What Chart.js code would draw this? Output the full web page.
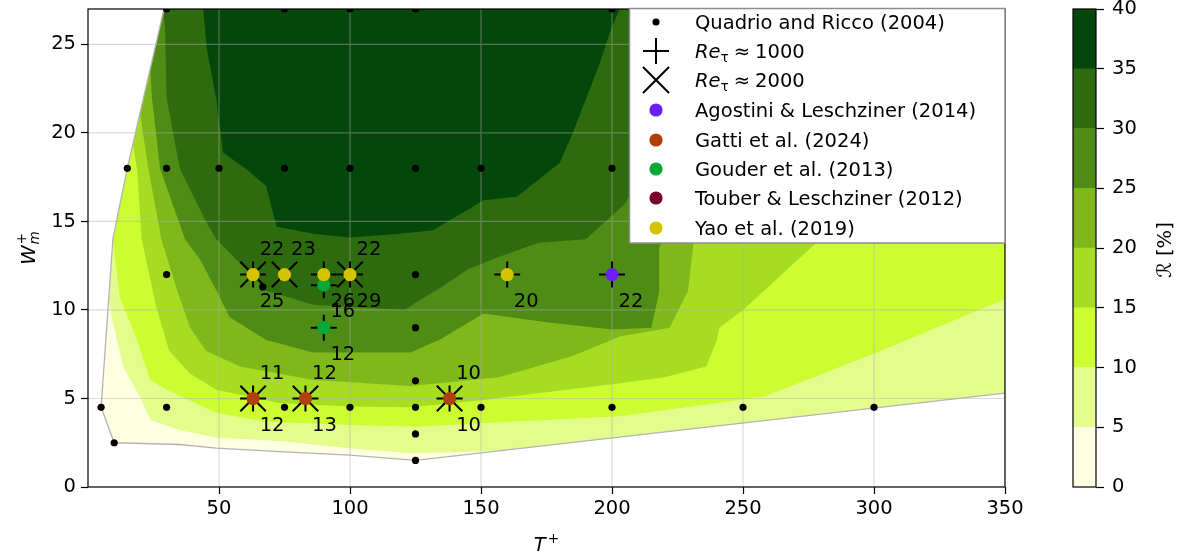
<!DOCTYPE html>
<html>
<head>
<meta charset="utf-8">
<script src="https://cdn.jsdelivr.net/npm/chart.js@4.4.1/dist/chart.umd.min.js"></script>
<style>
  html, body { margin: 0; padding: 0; background: #ffffff; }
  #wrap { position: relative; width: 1177px; height: 555px; overflow: hidden; }
  #main { position: absolute; left: 0; top: 0; }
  #cbar { position: absolute; left: 1040px; top: 0; }
</style>
</head>
<body>
<div id="wrap">
  <canvas id="main" width="1040" height="555"></canvas>
  <canvas id="cbar" width="137" height="555"></canvas>
</div>
<script>
const FONT = "'DejaVu Sans', sans-serif";
const FS = 19.5;

// ---- axes ----
const xTicks = [50, 100, 150, 200, 250, 300, 350];
const yTicks = [0, 5, 10, 15, 20, 25];
const xRange = [0, 350];
const yRange = [0, 27];

// ---- drag-reduction levels (colour bar) ----
const levelTicks = [0, 5, 10, 15, 20, 25, 30, 35, 40];
const levelColors = ['#fefee0', '#e4fc8c', '#cbfd32', '#a6dc22', '#80b81c', '#4f8c15', '#2e6b0e', '#04470a'];

// ---- edge of the interpolated (T+, W+) domain: left and lower side ----
const domainEdge = [[29, 27], [15, 18], [9.5, 14], [5, 4.5], [10, 2.5], [35, 2.4], [49, 2.2],
  [73, 2.0], [100, 1.8], [125, 1.5], [350, 5.3]];

// ---- iso-lines of R (T+, W+), each bounding the region above that level ----
const iso5 = [[6, 12], [9.5, 9.3], [13.4, 6.8], [19.8, 5.1], [23.7, 3.8], [35, 3.2], [49, 2.8],
  [73, 2.6], [99, 2.2], [123, 1.9], [150, 2.0], [168, 2.1], [175, 0], [360, 0], [360, 28], [6, 28]];
const iso10 = [[7, 16], [9.5, 14], [12.2, 10.7], [18.7, 8.3], [23.7, 6.05], [30, 5.5], [49, 4.2],
  [67, 3.7], [100, 3.5], [125, 3.4], [150, 3.6], [203, 4.0], [258, 5.1], [301, 7.6], [350, 10.6],
  [360, 11.2], [360, 28], [7, 28]];
const iso15 = [[10, 28], [14, 22], [18.7, 18], [20.5, 14], [26, 10.2], [31, 7.7], [39, 6.4], [49, 5.5],
  [73, 4.75], [100, 4.55], [123, 4.5], [150, 4.9], [200, 5.8], [220, 6.2], [236, 6.8], [240, 8.3],
  [241, 9.0], [250, 10], [278, 13.8], [300, 17], [330, 22], [360, 26], [360, 28]];
const iso20 = [[15, 28], [19, 22], [23, 18], [28, 14], [34, 11.1], [39, 9], [45, 7.7], [58, 6.8],
  [86, 6.05], [123, 5.7], [157, 6.2], [185, 7.4], [203, 8.5], [222, 9.0], [229, 11.1], [231, 13.6],
  [233, 16], [250, 22], [265, 28]];
const iso25 = [[22, 28], [24.4, 22], [27.5, 18], [37, 14], [43, 12.8], [49, 11.1], [54, 9.6], [68, 8.3],
  [86, 7.6], [123, 7.6], [134, 8.3], [151, 9.8], [175, 9.3], [200, 8.9], [215, 9.0], [218, 11],
  [218, 13.5], [225, 16], [240, 22], [255, 28]];
const iso30 = [[28, 28], [29.4, 26], [30, 22], [35, 18], [45, 15], [49, 14], [57, 12.8], [68, 11.1],
  [86, 10.3], [121, 10.0], [127, 10.6], [135, 11.3], [145, 12.3], [157, 13], [172, 13.8], [190, 14],
  [205, 16], [212, 18], [230, 22], [250, 28]];
const iso35 = [[43, 28], [44, 27], [45.4, 24.7], [49, 21.9], [51.5, 18.9], [60, 18], [68, 17], [72, 14.7],
  [86, 14.3], [100, 14.1], [119, 14.3], [131.7, 14.5], [151, 16.2], [163.7, 16.4], [180, 18.3],
  [185, 20], [195, 23.8], [200, 26], [203, 27], [204, 28]];

// ---- simulation database (Quadrio and Ricco 2004) ----
const quadrioPoints = [
  [30, 27], [75, 27], [100, 27], [125, 27], [200, 27],
  [15, 18], [30, 18], [50, 18], [75, 18], [100, 18], [125, 18], [150, 18], [200, 18],
  [30, 12], [125, 12], [66.7, 11.3], [125, 9], [125, 6],
  [5, 4.5], [30, 4.5], [75, 4.5], [100, 4.5], [125, 4.5], [150, 4.5], [200, 4.5], [250, 4.5], [300, 4.5],
  [125, 3], [10, 2.5], [125, 1.5]
];

// ---- high-Re studies: R [%] at Re_tau ~ 1000 and ~ 2000 ----
const agostiniT = [200];
const agostiniW = [12];
const agostiniR1000 = [22];
const agostiniR2000 = [null];

const gattiT = [63, 83, 138];
const gattiW = [5, 5, 5];
const gattiR1000 = [12, 13, 10];
const gattiR2000 = [11, 12, 10];

const gouderT = [90, 90];
const gouderW = [11.4, 9];
const gouderR1000 = [16, 12];
const gouderR2000 = [null, null];

const touberT = [];
const touberW = [];
const touberR1000 = [];
const touberR2000 = [];

const yaoT = [63, 75, 90, 100, 160];
const yaoW = [12, 12, 12, 12, 12];
const yaoR1000 = [25, null, 26, 29, 20];
const yaoR2000 = [22, 23, null, 22, null];

const studies = [
  { name: 'Agostini & Leschziner (2014)', color: '#6b21f2', T: agostiniT, W: agostiniW, r1: agostiniR1000, r2: agostiniR2000 },
  { name: 'Gatti et al. (2024)', color: '#b23e0a', T: gattiT, W: gattiW, r1: gattiR1000, r2: gattiR2000 },
  { name: 'Gouder et al. (2013)', color: '#06a838', T: gouderT, W: gouderW, r1: gouderR1000, r2: gouderR2000 },
  { name: 'Touber & Leschziner (2012)', color: '#7b0027', T: touberT, W: touberW, r1: touberR1000, r2: touberR2000 },
  { name: 'Yao et al. (2019)', color: '#d6c300', T: yaoT, W: yaoW, r1: yaoR1000, r2: yaoR2000 }
];

const toXY = pts => pts.map(([x, y]) => ({ x, y }));

function region(points, color, order) {
  return {
    data: toXY(points), showLine: true, fill: 'shape', backgroundColor: color,
    borderColor: 'rgba(0,0,0,0)', borderWidth: 0, pointRadius: 0, tension: 0, order, clip: 0
  };
}

function markers(points, style, order) {
  return Object.assign({
    data: toXY(points), showLine: false, pointBorderColor: '#000', order, clip: 0
  }, style);
}

const domainPoly = domainEdge.concat([[360, 5.3], [360, 28], [29, 28]]);
const outsidePoly = [[29, 28], [-5, 28], [-5, -1], [360, -1], [360, 5.3]].concat(domainEdge.slice().reverse());

const isoLines = [iso5, iso10, iso15, iso20, iso25, iso30, iso35];

const datasets = [];
datasets.push(region(domainPoly, levelColors[0], 40));
isoLines.forEach((line, i) => datasets.push(region(line, levelColors[i + 1], 39 - i)));
datasets.push(region(outsidePoly, '#ffffff', 30));
datasets.push({
  data: toXY(domainEdge), showLine: true, fill: false, borderColor: '#b4b4b4', borderWidth: 1.3,
  pointRadius: 0, tension: 0, order: 29, clip: 0
});

const plusPts = [], crossPts = [];
studies.forEach(s => s.T.forEach((t, i) => {
  if (s.r1[i] !== null) plusPts.push([t, s.W[i]]);
  if (s.r2[i] !== null) crossPts.push([t, s.W[i]]);
}));

const quadrioSet = markers(quadrioPoints, {
  pointStyle: 'circle', pointRadius: 3.6, pointBackgroundColor: '#000', pointBorderWidth: 0
}, 20);
quadrioSet.gridBelow = true;
datasets.push(quadrioSet);
datasets.push(markers(plusPts, { pointStyle: 'cross', pointRadius: 13, pointBorderWidth: 2 }, 19));
datasets.push(markers(crossPts, { pointStyle: 'crossRot', pointRadius: 18, pointBorderWidth: 2 }, 18));
studies.forEach((s, k) => {
  datasets.push(markers(s.T.map((t, i) => [t, s.W[i]]), {
    pointStyle: 'circle', pointRadius: 6.6, pointBackgroundColor: s.color, pointBorderWidth: 0
  }, 10 - k));
});

// grid lines sit above the filled regions but below the markers
const gridPlugin = {
  id: 'gridBelowMarkers',
  beforeDatasetDraw(chart, args) {
    if (!chart.data.datasets[args.index].gridBelow) return;
    const { ctx, chartArea: a, scales: { x, y } } = chart;
    ctx.save();
    ctx.beginPath();
    ctx.rect(a.left, a.top, a.right - a.left, a.bottom - a.top);
    ctx.clip();
    ctx.strokeStyle = 'rgba(176,176,176,0.45)';
    ctx.lineWidth = 1.2;
    ctx.beginPath();
    xTicks.forEach(v => { const px = x.getPixelForValue(v); ctx.moveTo(px, a.top); ctx.lineTo(px, a.bottom); });
    yTicks.forEach(v => { const py = y.getPixelForValue(v); ctx.moveTo(a.left, py); ctx.lineTo(a.right, py); });
    ctx.stroke();
    ctx.restore();
  }
};

const framePlugin = {
  id: 'frameAndValues',
  afterDatasetsDraw(chart) {
    const { ctx, chartArea: a, scales: { x, y } } = chart;
    ctx.save();
    ctx.font = `${FS}px ${FONT}`;
    ctx.fillStyle = '#000';
    ctx.textAlign = 'center';
    ctx.textBaseline = 'middle';
    studies.forEach(s => s.T.forEach((t, i) => {
      const px = x.getPixelForValue(t), py = y.getPixelForValue(s.W[i]);
      if (s.r2[i] !== null) ctx.fillText(String(s.r2[i]), px + 19, py - 25);
      if (s.r1[i] !== null) ctx.fillText(String(s.r1[i]), px + 19, py + 27);
    }));
    ctx.strokeStyle = '#000';
    ctx.lineWidth = 1.2;
    ctx.strokeRect(a.left, a.top, a.right - a.left, a.bottom - a.top);
    ctx.restore();
  },
  afterDraw(chart) {
    const { ctx, chartArea: a } = chart;
    ctx.save();
    // axis titles
    ctx.fillStyle = '#000';
    ctx.textBaseline = 'alphabetic';
    ctx.textAlign = 'left';
    const itF = `italic ${FS}px ${FONT}`, smF = `${FS * 0.7}px ${FONT}`, smItF = `italic ${FS * 0.7}px ${FONT}`;
    ctx.font = itF;
    const wT = ctx.measureText('T').width;
    ctx.font = smF;
    const wP = ctx.measureText('+').width;
    const tx = (a.left + a.right) / 2 - (wT + wP + 2) / 2;
    ctx.font = itF; ctx.fillText('T', tx, 551);
    ctx.font = smF; ctx.fillText('+', tx + wT + 2, 543);

    ctx.save();
    ctx.translate(35, (a.top + a.bottom) / 2);
    ctx.rotate(-Math.PI / 2);
    ctx.font = itF;
    const wW = ctx.measureText('W').width;
    ctx.font = smItF;
    const wm = ctx.measureText('m').width;
    const wx = -(wW + wm + 1) / 2;
    ctx.font = itF; ctx.fillText('W', wx, 0);
    ctx.font = smItF; ctx.fillText('m', wx + wW + 1, 4);
    ctx.font = smF; ctx.fillText('+', wx + wW + 1, -9);
    ctx.restore();

    // legend
    const lx0 = 629.5, ly0 = a.top - 0.5, lx1 = a.right, ly1 = 243;
    ctx.fillStyle = '#ffffff';
    ctx.fillRect(lx0, ly0, lx1 - lx0, ly1 - ly0);
    ctx.strokeStyle = '#8c8c8c';
    ctx.lineWidth = 1.5;
    ctx.strokeRect(lx0, ly0, lx1 - lx0, ly1 - ly0);
    const rows = [22, 51, 80, 110, 140, 169, 198, 228];
    const mx = 656, txx = 695;
    ctx.fillStyle = '#000';
    ctx.strokeStyle = '#000';
    ctx.lineWidth = 2;
    // Quadrio and Ricco
    ctx.beginPath(); ctx.arc(mx, rows[0], 3.6, 0, 2 * Math.PI); ctx.fill();
    // plus and cross
    ctx.beginPath();
    ctx.moveTo(mx - 13, rows[1]); ctx.lineTo(mx + 13, rows[1]);
    ctx.moveTo(mx, rows[1] - 13); ctx.lineTo(mx, rows[1] + 13);
    ctx.moveTo(mx - 13, rows[2] - 13); ctx.lineTo(mx + 13, rows[2] + 13);
    ctx.moveTo(mx - 13, rows[2] + 13); ctx.lineTo(mx + 13, rows[2] - 13);
    ctx.stroke();
    studies.forEach((s, k) => {
      ctx.fillStyle = s.color;
      ctx.beginPath(); ctx.arc(mx, rows[3 + k], 6.6, 0, 2 * Math.PI); ctx.fill();
    });
    ctx.fillStyle = '#000';
    const base = r => r + 7;
    ctx.font = `${FS}px ${FONT}`;
    ctx.fillText('Quadrio and Ricco (2004)', txx, base(rows[0]));
    studies.forEach((s, k) => { ctx.font = `${FS}px ${FONT}`; ctx.fillText(s.name, txx, base(rows[3 + k])); });
    ['1000', '2000'].forEach((re, k) => {
      const b = base(rows[1 + k]);
      let cx = txx;
      ctx.font = itF; ctx.fillText('Re', cx, b); cx += ctx.measureText('Re').width;
      ctx.font = smF; ctx.fillText('\u03c4', cx, b + 4); cx += ctx.measureText('\u03c4').width + 5;
      ctx.font = `${FS}px ${FONT}`; ctx.fillText('\u2248', cx, b); cx += ctx.measureText('\u2248').width + 5;
      ctx.fillText(re, cx, b);
    });
    ctx.restore();
  }
};

const tickFont = { family: FONT, size: FS };

new Chart(document.getElementById('main'), {
  type: 'line',
  data: { datasets },
  options: {
    responsive: false, animation: false, events: [],
    layout: { autoPadding: false, padding: { left: 0, top: 9, right: 35, bottom: 0 } },
    plugins: { legend: { display: false }, tooltip: { enabled: false } },
    scales: {
      x: {
        type: 'linear', min: xRange[0], max: xRange[1],
        afterBuildTicks: s => { s.ticks = xTicks.map(v => ({ value: v })); },
        afterFit: s => { s.height = 68; s.paddingLeft = 0; s.paddingRight = 0; },
        ticks: { font: tickFont, color: '#000', padding: 3, maxRotation: 0, autoSkip: false },
        grid: { drawOnChartArea: false, drawTicks: true, tickLength: 7, tickColor: '#000', tickWidth: 1.2 },
        border: { display: false }
      },
      y: {
        type: 'linear', min: yRange[0], max: yRange[1],
        afterBuildTicks: s => { s.ticks = yTicks.map(v => ({ value: v })); },
        afterFit: s => { s.width = 88; s.paddingTop = 0; s.paddingBottom = 0; },
        ticks: { font: tickFont, color: '#000', padding: 5, autoSkip: false },
        grid: { drawOnChartArea: false, drawTicks: true, tickLength: 7, tickColor: '#000', tickWidth: 1.2 },
        border: { display: false }
      }
    }
  },
  plugins: [gridPlugin, framePlugin]
});

// ---- colour bar ----
const cbarPlugin = {
  id: 'cbarFrame',
  afterDraw(chart) {
    const { ctx, chartArea: a } = chart;
    ctx.save();
    ctx.strokeStyle = '#000';
    ctx.lineWidth = 1.2;
    ctx.strokeRect(a.left, a.top, a.right - a.left, a.bottom - a.top);
    ctx.translate(126, 250);
    ctx.rotate(-Math.PI / 2);
    ctx.fillStyle = '#000';
    ctx.textAlign = 'center';
    ctx.textBaseline = 'middle';
    ctx.font = `${FS}px ${FONT}`;
    ctx.fillText('\u211b [%]', 0, 0);
    ctx.restore();
  }
};

new Chart(document.getElementById('cbar'), {
  type: 'bar',
  data: {
    labels: [''],
    datasets: levelColors.map((c, i) => ({
      data: [levelTicks[i + 1] - levelTicks[i]], backgroundColor: c, borderWidth: 0,
      barPercentage: 1, categoryPercentage: 1, stack: 'levels'
    }))
  },
  options: {
    responsive: false, animation: false, events: [],
    layout: { autoPadding: false, padding: { left: 33, top: 9, right: 0, bottom: 68 } },
    plugins: { legend: { display: false }, tooltip: { enabled: false } },
    scales: {
      x: { display: false, stacked: true },
      y: {
        position: 'right', stacked: true, min: levelTicks[0], max: levelTicks[levelTicks.length - 1],
        afterBuildTicks: s => { s.ticks = levelTicks.map(v => ({ value: v })); },
        afterFit: s => { s.width = 81; s.paddingTop = 0; s.paddingBottom = 0; },
        ticks: { font: tickFont, color: '#000', padding: 8, autoSkip: false },
        grid: { drawOnChartArea: false, drawTicks: true, tickLength: 8, tickColor: '#000', tickWidth: 1.2 },
        border: { display: false }
      }
    }
  },
  plugins: [cbarPlugin]
});
</script>
</body>
</html>
